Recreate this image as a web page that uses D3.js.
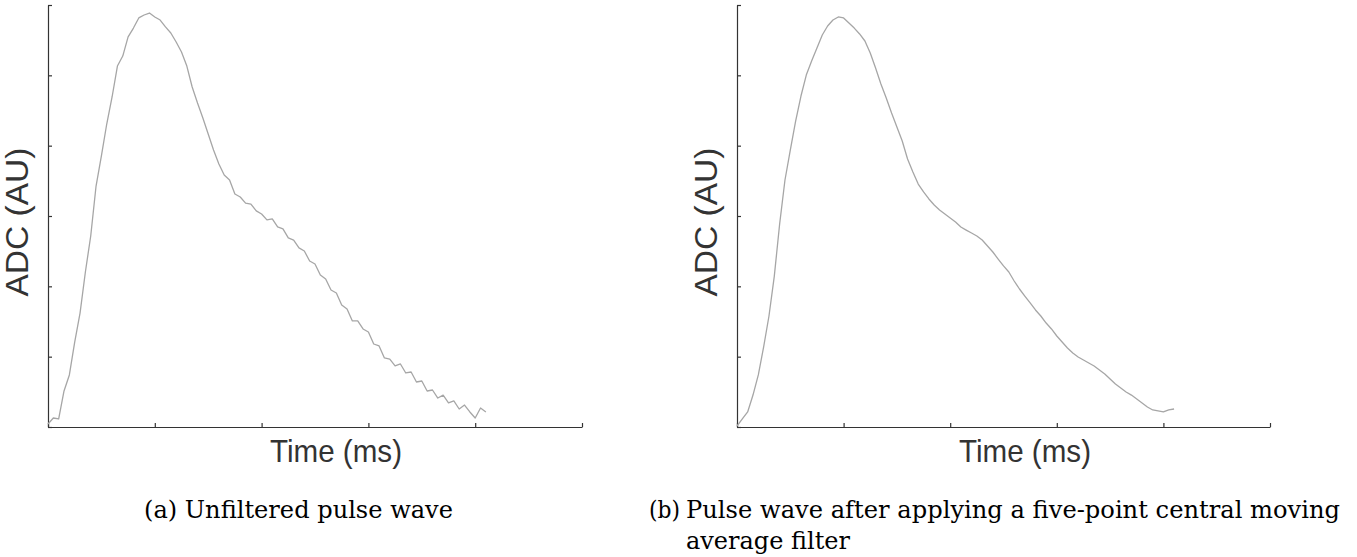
<!DOCTYPE html>
<html>
<head>
<meta charset="utf-8">
<script src="https://cdn.jsdelivr.net/npm/d3@7"></script>
<style>
  html, body { margin: 0; padding: 0; background: #fff; }
  svg { display: block; }
</style>
</head>
<body>
<svg id="chart" width="1357" height="557"></svg>
<script>
// sample times (ms), shared by both traces
const sampleTimes = [
  0, 10, 20, 30, 40, 50, 60, 70, 80, 90,
  100, 110, 120, 130, 140, 150, 160, 170, 180, 190,
  200, 210, 220, 230, 240, 250, 260, 270, 280, 290,
  300, 310, 320, 330, 340, 350, 360, 370, 380, 390,
  400, 410, 420, 430, 440, 450, 460, 470, 480, 490,
  500, 510, 520, 530, 540, 550, 560, 570, 580, 590,
  600, 610, 620, 630, 640, 650, 660, 670, 680, 690,
  700, 710, 720, 730, 740, 750, 760, 770, 780, 790,
  800, 810, 820,
];

// raw ADC reading
const rawAdc = [
  21, 64, 57, 256, 370, 604, 810, 1102, 1358, 1713,
  1927, 2154, 2346, 2566, 2637, 2773, 2836, 2908, 2929, 2943,
  2915, 2893, 2844, 2801, 2737, 2666, 2566, 2417, 2303, 2197,
  2083, 1969, 1870, 1791, 1756, 1656, 1635, 1592, 1585, 1536,
  1514, 1472, 1479, 1422, 1408, 1344, 1329, 1273, 1251, 1180,
  1159, 1081, 1052, 974, 953, 867, 839, 754, 754, 697,
  675, 590, 576, 491, 483, 434, 448, 384, 391, 320,
  327, 256, 263, 206, 227, 171, 185, 128, 156, 107,
  64, 135, 107,
];

// after five-point central moving average
const filteredAdc = [
  7, 57, 107, 227, 370, 569, 789, 1073, 1443, 1756,
  1969, 2175, 2353, 2502, 2602, 2694, 2787, 2851, 2893, 2915,
  2908, 2872, 2836, 2794, 2744, 2659, 2552, 2438, 2339, 2232,
  2133, 2033, 1905, 1813, 1727, 1671, 1621, 1578, 1543, 1514,
  1486, 1457, 1422, 1400, 1379, 1358, 1329, 1287, 1244, 1194,
  1145, 1102, 1038, 981, 931, 882, 832, 789, 739, 697,
  647, 604, 562, 526, 498, 476, 455, 434, 405, 377,
  341, 306, 277, 249, 227, 199, 171, 142, 121, 114,
  107, 121, 128,
];

const timeTicks = [0, 200, 400, 600, 800, 1000];
const adcTicks = [0, 500, 1000, 1500, 2000, 2500, 3000];

const captionA = '(a) Unfiltered pulse wave';
const captionB = ['(b)', 'Pulse wave after applying a five-point central moving', 'average filter'];

const plotTop = 5;
const plotBottom = 427;
const panels = [
  { left: 48, right: 582, values: rawAdc },
  { left: 737, right: 1270, values: filteredAdc },
];

const lineColor = '#a6a6a6';
const axisColor = '#333';
const sansFont = '"Liberation Sans", Arial, Helvetica, sans-serif';
const serifFont = '"DejaVu Serif", "Liberation Serif", serif';

const svg = d3.select('#chart');

const y = d3.scaleLinear()
  .domain([0, 3000])
  .range([plotBottom, plotTop]);

/**
 * Draw one panel: axes, axis labels and the trace
 * @param {object} p - panel settings
 */
function drawPanel(p) {
  const x = d3.scaleLinear()
    .domain([0, 1000])
    .range([p.left, p.right]);

  const g = svg.append('g');

  // x axis, ticks pointing inward
  g.append('g')
    .attr('transform', `translate(0,${plotBottom})`)
    .call(d3.axisBottom(x)
      .tickValues(timeTicks)
      .tickSizeInner(-4)
      .tickSizeOuter(0)
      .tickFormat(''))
    .call((a) => a.selectAll('path, line')
      .attr('stroke', axisColor)
      .attr('stroke-width', 1.2));

  // y axis
  g.append('g')
    .attr('transform', `translate(${p.left},0)`)
    .call(d3.axisLeft(y)
      .tickValues(adcTicks)
      .tickSizeInner(-4)
      .tickSizeOuter(0)
      .tickFormat(''))
    .call((a) => a.selectAll('path, line')
      .attr('stroke', axisColor)
      .attr('stroke-width', 1.2));

  // trace
  const line = d3.line()
    .x((d, i) => x(sampleTimes[i]))
    .y((d) => y(d));

  g.append('path')
    .datum(p.values)
    .attr('fill', 'none')
    .attr('stroke', lineColor)
    .attr('stroke-width', 1.3)
    .attr('stroke-linejoin', 'round')
    .attr('d', line);

  // axis labels
  g.append('text')
    .attr('x', p.left + 288)
    .attr('y', 462)
    .attr('text-anchor', 'middle')
    .attr('font-family', sansFont)
    .attr('font-size', 32)
    .attr('textLength', 132)
    .attr('lengthAdjust', 'spacingAndGlyphs')
    .attr('fill', '#333')
    .text('Time (ms)');

  g.append('text')
    .attr('transform', `translate(${p.left - 20},222) rotate(-90)`)
    .attr('text-anchor', 'middle')
    .attr('font-family', sansFont)
    .attr('font-size', 32)
    .attr('textLength', 149)
    .attr('lengthAdjust', 'spacingAndGlyphs')
    .attr('fill', '#333')
    .text('ADC (AU)');
}

panels.forEach(drawPanel);

// captions
const caption = (x, yPos, len, txt) => svg.append('text')
  .attr('x', x)
  .attr('y', yPos)
  .attr('font-family', serifFont)
  .attr('font-size', 23.5)
  .attr('textLength', len)
  .attr('lengthAdjust', 'spacingAndGlyphs')
  .attr('fill', '#000')
  .text(txt);

caption(144, 518, 309, captionA);
caption(649, 518, 31, captionB[0]);
caption(686, 518, 654, captionB[1]);
caption(686, 549, 164, captionB[2]);
</script>
</body>
</html>
